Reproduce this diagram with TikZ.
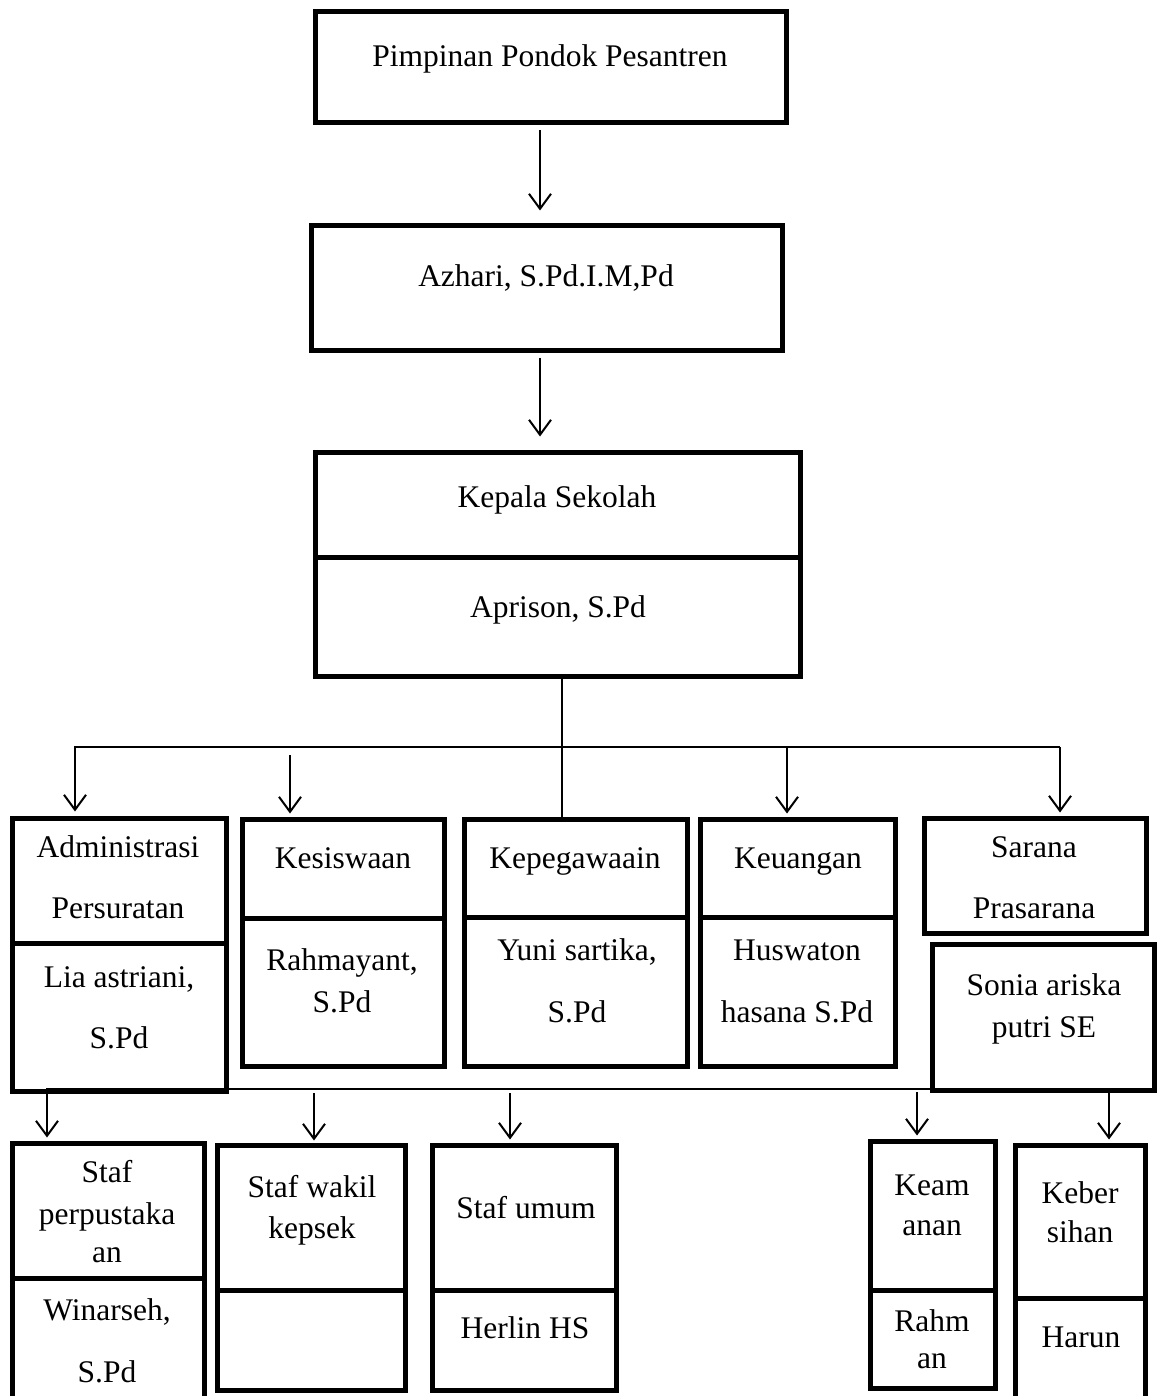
\documentclass[tikz,border=0pt]{standalone}
\usepackage{fontspec}
\setmainfont{Liberation Serif}
\usetikzlibrary{arrows.meta,fit}
\begin{document}
\begin{tikzpicture}[x=1pt,y=-1pt,
  box/.style={draw=black,line width=5pt,inner sep=0pt},
  txt/.style={inner sep=0pt,anchor=base,font=\fontsize{31.5}{38}\selectfont},
  line/.style={draw=black,line width=2pt},
  arr/.style={line,-{Straight Barb[length=15pt,width=22pt,line width=2pt]}}]
\useasboundingbox (0,0) rectangle (1157,1396);
\clip (0,0) rectangle (1157,1396);
\fill[white] (0,0) rectangle (1157,1396);

% boxes
\node[box,fit={(315,12) (786,123)}] (top) {};
\node[box,fit={(311,226) (782,350)}] (azhari) {};
\node[box,fit={(315,452) (800,557)}] (kepalaA) {};
\node[box,fit={(315,557) (800,676)}] (kepalaB) {};
\node[box,fit={(12,818) (226,943)}] (adminA) {};
\node[box,fit={(12,943) (226,1091)}] (adminB) {};
\node[box,fit={(242,819) (444,918)}] (kesA) {};
\node[box,fit={(242,918) (444,1066)}] (kesB) {};
\node[box,fit={(464,819) (687,917)}] (kepegA) {};
\node[box,fit={(464,917) (687,1066)}] (kepegB) {};
\node[box,fit={(700,819) (895,917)}] (keuA) {};
\node[box,fit={(700,917) (895,1066)}] (keuB) {};
\node[box,fit={(924,818) (1146,933)}] (sarana) {};
\node[box,fit={(932,944) (1154,1090)}] (sonia) {};
\node[box,fit={(12,1143) (204,1278)}] (perpusA) {};
\node[box,fit={(12,1278) (204,1420)}] (perpusB) {};
\node[box,fit={(217,1145) (405,1290)}] (wakilA) {};
\node[box,fit={(217,1290) (405,1390)}] (wakilB) {};
\node[box,fit={(432,1145) (616,1290)}] (umumA) {};
\node[box,fit={(432,1290) (616,1390)}] (umumB) {};
\node[box,fit={(870,1141) (995,1290)}] (keamA) {};
\node[box,fit={(870,1290) (995,1388)}] (keamB) {};
\node[box,fit={(1015,1145) (1145,1298)}] (keberA) {};
\node[box,fit={(1015,1298) (1145,1420)}] (keberB) {};

% texts
\node[txt] (t1) at (550,67) {Pimpinan Pondok Pesantren};
\node[txt] (t2) at (546,287) {Azhari, S.Pd.I.M,Pd};
\node[txt] (t3) at (557,507) {Kepala Sekolah};
\node[txt] (t4) at (558,617) {Aprison, S.Pd};
\node[txt] (t5) at (118,857) {Administrasi};
\node[txt] (t6) at (118,918) {Persuratan};
\node[txt] (t7) at (119,987) {Lia astriani,};
\node[txt] (t8) at (119,1048) {S.Pd};
\node[txt] (t9) at (343,868) {Kesiswaan};
\node[txt] (t10) at (342,970) {Rahmayant,};
\node[txt] (t11) at (342,1012) {S.Pd};
\node[txt] (t12) at (575,868) {Kepegawaain};
\node[txt] (t13) at (577,960) {Yuni sartika,};
\node[txt] (t14) at (577,1022) {S.Pd};
\node[txt] (t15) at (798,868) {Keuangan};
\node[txt] (t16) at (797,960) {Huswaton};
\node[txt] (t17) at (797,1022) {hasana S.Pd};
\node[txt] (t18) at (1034,857) {Sarana};
\node[txt] (t19) at (1034,918) {Prasarana};
\node[txt] (t20) at (1044,995) {Sonia ariska};
\node[txt] (t21) at (1044,1037) {putri SE};
\node[txt] (t22) at (107,1182) {Staf};
\node[txt] (t23) at (107,1224) {perpustaka};
\node[txt] (t24) at (107,1262) {an};
\node[txt] (t25) at (107,1320) {Winarseh,};
\node[txt] (t26) at (107,1382) {S.Pd};
\node[txt] (t27) at (312,1197) {Staf wakil};
\node[txt] (t28) at (312,1238) {kepsek};
\node[txt] (t29) at (526,1218) {Staf umum};
\node[txt] (t30) at (525,1338) {Herlin HS};
\node[txt] (t31) at (932,1195) {Keam};
\node[txt] (t32) at (932,1235) {anan};
\node[txt] (t33) at (932,1331) {Rahm};
\node[txt] (t34) at (932,1368) {an};
\node[txt] (t35) at (1080,1203) {Keber};
\node[txt] (t36) at (1080,1242) {sihan};
\node[txt] (t37) at (1081,1347) {Harun};

% coordinates
\coordinate (c540) at (540,0);
\coordinate (c562) at (562,0);
\coordinate (bL) at (75,747);
\coordinate (bR) at (1060,747);
\coordinate (x290) at (290,755);
\coordinate (x787) at (787,747);
\coordinate (dL) at (47,1089);
\coordinate (dR) at (1109,1089);
\coordinate (x314) at (314,1093);
\coordinate (x510) at (510,1093);
\coordinate (x917) at (917,1092);

% connectors
\draw[arr,shorten <=5pt,shorten >=13pt] (top.south -| c540) -- (azhari.north -| c540);
\draw[arr,shorten <=5pt,shorten >=13pt] (azhari.south -| c540) -- (kepalaA.north -| c540);
\draw[line] (kepalaB.south -| c562) -- (kepegA.north -| c562);
\draw[arr,shorten >=4pt] (bR) -- (bL) -- (adminA.north -| bL);
\draw[arr,shorten >=3pt] (bR) -- (sarana.north -| bR);
\draw[arr,shorten >=3pt] (x787) -- (keuA.north -| x787);
\draw[arr,shorten >=3pt] (x290) -- (kesA.north -| x290);
\draw[arr,shorten >=3pt] (dR) -- (dL) -- (perpusA.north -| dL);
\draw[arr,shorten >=3pt] (dR) -- (keberA.north -| dR);
\draw[arr,shorten >=2pt] (x314) -- (wakilA.north -| x314);
\draw[arr,shorten >=3pt] (x510) -- (umumA.north -| x510);
\draw[arr,shorten >=3pt] (x917) -- (keamA.north -| x917);
\end{tikzpicture}
\end{document}
